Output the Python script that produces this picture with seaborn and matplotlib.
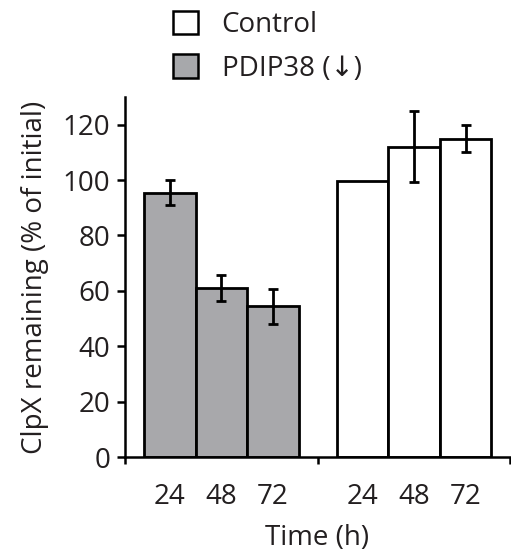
import matplotlib
matplotlib.use("Agg")
import matplotlib.pyplot as plt
import seaborn as sns
import pandas as pd
from matplotlib.patches import Patch

# data
groups = ["PDIP38 (↓)"] * 3 + ["Control"] * 3
times = ["24", "48", "72", "24", "48", "72"]
values = [95.5, 61.0, 54.5, 99.5, 112.0, 115.0]
errors = [4.5, 4.8, 6.3, 0.0, 12.8, 5.0]
colors = {"PDIP38 (↓)": "#a7a8ab", "Control": "#ffffff"}

# bar positions: two touching triplets with a gap between them
gap = 0.74
pos = [i + (gap if i >= 3 else 0) for i in range(len(values))]

df = pd.DataFrame({"pos": pos, "value": values, "group": groups, "time": times})

sns.set_theme(style="ticks")
plt.rcParams["font.family"] = ["Open Sans", "DejaVu Sans"]
plt.rcParams["text.color"] = "#231f20"

fig = plt.figure(figsize=(5.11, 5.57), dpi=100)
ax = fig.add_axes([0.2446, 0.1795, 0.7534, 0.6464])

sns.barplot(data=df, x="pos", y="value", hue="group", palette=colors,
            native_scale=True, dodge=False, width=1.0, edgecolor="black",
            linewidth=2.0, errorbar=None, legend=False, ax=ax)

e_pos = [p for p, e in zip(pos, errors) if e > 0]
e_val = [v for v, e in zip(values, errors) if e > 0]
e_err = [e for e in errors if e > 0]
ax.errorbar(e_pos, e_val, yerr=e_err, fmt="none", ecolor="black",
            elinewidth=2.0, capsize=3.5, capthick=2.0, zorder=5)

xl, xr = -0.87, pos[-1] + 0.86
ax.set_xlim(xl, xr)
ax.set_ylim(0, 130)
ax.set_yticks(range(0, 121, 20))

fs = 20
mid = (pos[2] + pos[3]) / 2
ax.set_xticks([xl, mid, xr], labels=["", "", ""])
ax.set_xticks(pos, labels=times, minor=True)
ax.tick_params(axis="x", which="minor", length=0, pad=19, labelsize=fs,
               labelcolor="#231f20")
ax.tick_params(axis="x", which="major", length=5, width=1.8, color="black")
ax.tick_params(axis="y", length=5.5, width=1.8, pad=5, labelsize=fs,
               color="black", labelcolor="#231f20")

for s in ["top", "right"]:
    ax.spines[s].set_visible(False)
for s in ["left", "bottom"]:
    ax.spines[s].set_linewidth(1.8)
    ax.spines[s].set_color("black")

ax.set_xlabel("Time (h)", fontsize=fs, labelpad=9, color="#231f20")
ax.set_ylabel("ClpX remaining (% of initial)", fontsize=fs, labelpad=10,
              color="#231f20")

handles = [Patch(facecolor=colors["Control"], edgecolor="black", linewidth=1.8,
                 label="Control"),
           Patch(facecolor=colors["PDIP38 (↓)"], edgecolor="black",
                 linewidth=1.8, label="PDIP38 (↓)")]
fig.legend(handles=handles, loc="upper left", bbox_to_anchor=(0.317, 1.0),
           frameon=False, fontsize=fs, handlelength=0.9, handleheight=0.9,
           handletextpad=0.85, labelspacing=0.55, borderaxespad=0)

fig.savefig("out.png", dpi=100)
